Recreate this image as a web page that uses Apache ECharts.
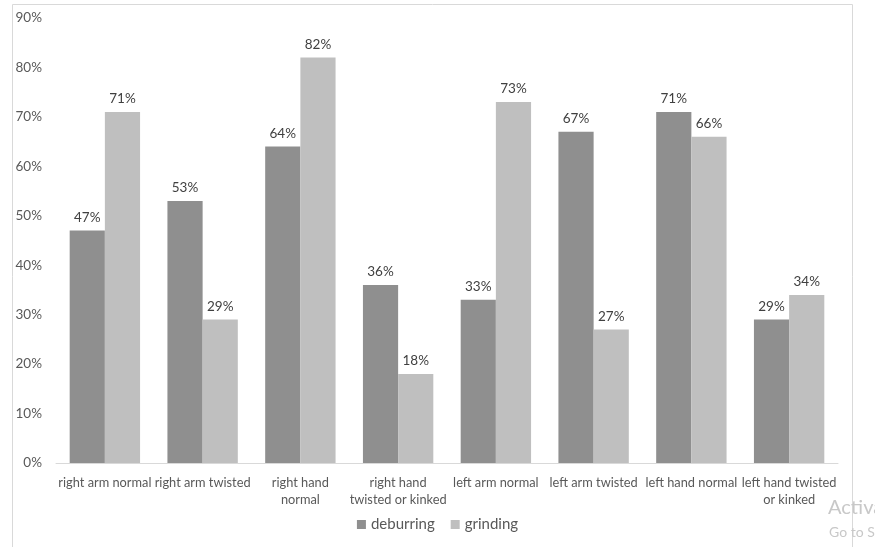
<!DOCTYPE html>
<html>
<head>
<meta charset="utf-8">
<script src="https://cdn.jsdelivr.net/npm/echarts@6/dist/echarts.min.js"></script>
<style>
  html, body { margin: 0; padding: 0; background: #fff; }
  #chart { width: 875px; height: 547px; }
</style>
</head>
<body>
<div id="chart"></div>
<script>
// categories (line breaks follow the wrapping of the original)
const categories = [
  'right arm normal', 'right arm twisted', 'right hand\nnormal', 'right hand\ntwisted or kinked',
  'left arm normal', 'left arm twisted', 'left hand normal', 'left hand twisted\nor kinked'
];
const deburring = [47, 53, 64, 36, 33, 67, 71, 29];
const grinding = [71, 29, 82, 18, 73, 27, 66, 34];
const yTicks = [0, 90, 10]; // min, max, interval

const font = 'Lato, Liberation Sans, sans-serif';

let chart = echarts.init(document.getElementById('chart'));

let option = {
  animation: false,
  grid: {
    left: 56,
    right: 37,
    top: 18,
    bottom: 84
  },
  legend: {
    bottom: 10,
    left: 'center',
    itemWidth: 9,
    itemHeight: 9,
    itemGap: 16,
    icon: 'rect',
    textStyle: { color: '#595959', fontSize: 15, fontFamily: font },
    data: ['deburring', 'grinding']
  },
  xAxis: {
    type: 'category',
    data: categories,
    axisLine: { lineStyle: { color: '#d9d9d9' } },
    axisTick: { show: false },
    axisLabel: {
      interval: 0,
      color: '#595959',
      fontSize: 12.8,
      lineHeight: 17,
      margin: 11,
      fontFamily: font
    }
  },
  yAxis: {
    type: 'value',
    min: yTicks[0],
    max: yTicks[1],
    interval: yTicks[2],
    splitLine: { show: false },
    axisLine: { show: false },
    axisTick: { show: false },
    axisLabel: {
      formatter: '{value}%',
      color: '#595959',
      fontSize: 13.5,
      margin: 14,
      fontFamily: font
    }
  },
  series: [
    {
      name: 'deburring',
      type: 'bar',
      data: deburring,
      barGap: '0%',
      barCategoryGap: '28%',
      itemStyle: { color: '#8f8f8f' },
      label: {
        show: true,
        position: 'top',
        distance: 6,
        formatter: '{c}%',
        color: '#404040',
        fontSize: 13.5,
        fontFamily: font
      }
    },
    {
      name: 'grinding',
      type: 'bar',
      data: grinding,
      itemStyle: { color: '#bfbfbf' },
      label: {
        show: true,
        position: 'top',
        distance: 6,
        formatter: '{c}%',
        color: '#404040',
        fontSize: 13.5,
        fontFamily: font
      }
    }
  ],
  graphic: [
    {
      type: 'rect',
      shape: { x: 12.5, y: 4.5, width: 840, height: 560 },
      style: { fill: 'none', stroke: '#d9d9d9', lineWidth: 1 },
      silent: true
    },
    {
      type: 'text',
      left: 828,
      top: 498,
      style: { text: 'Activa', fill: '#c8c8c8', fontSize: 20, fontFamily: font }
    },
    {
      type: 'text',
      left: 829,
      top: 525,
      style: { text: 'Go to S', fill: '#c8c8c8', fontSize: 14, fontFamily: font }
    }
  ]
};

chart.setOption(option);
</script>
</body>
</html>
